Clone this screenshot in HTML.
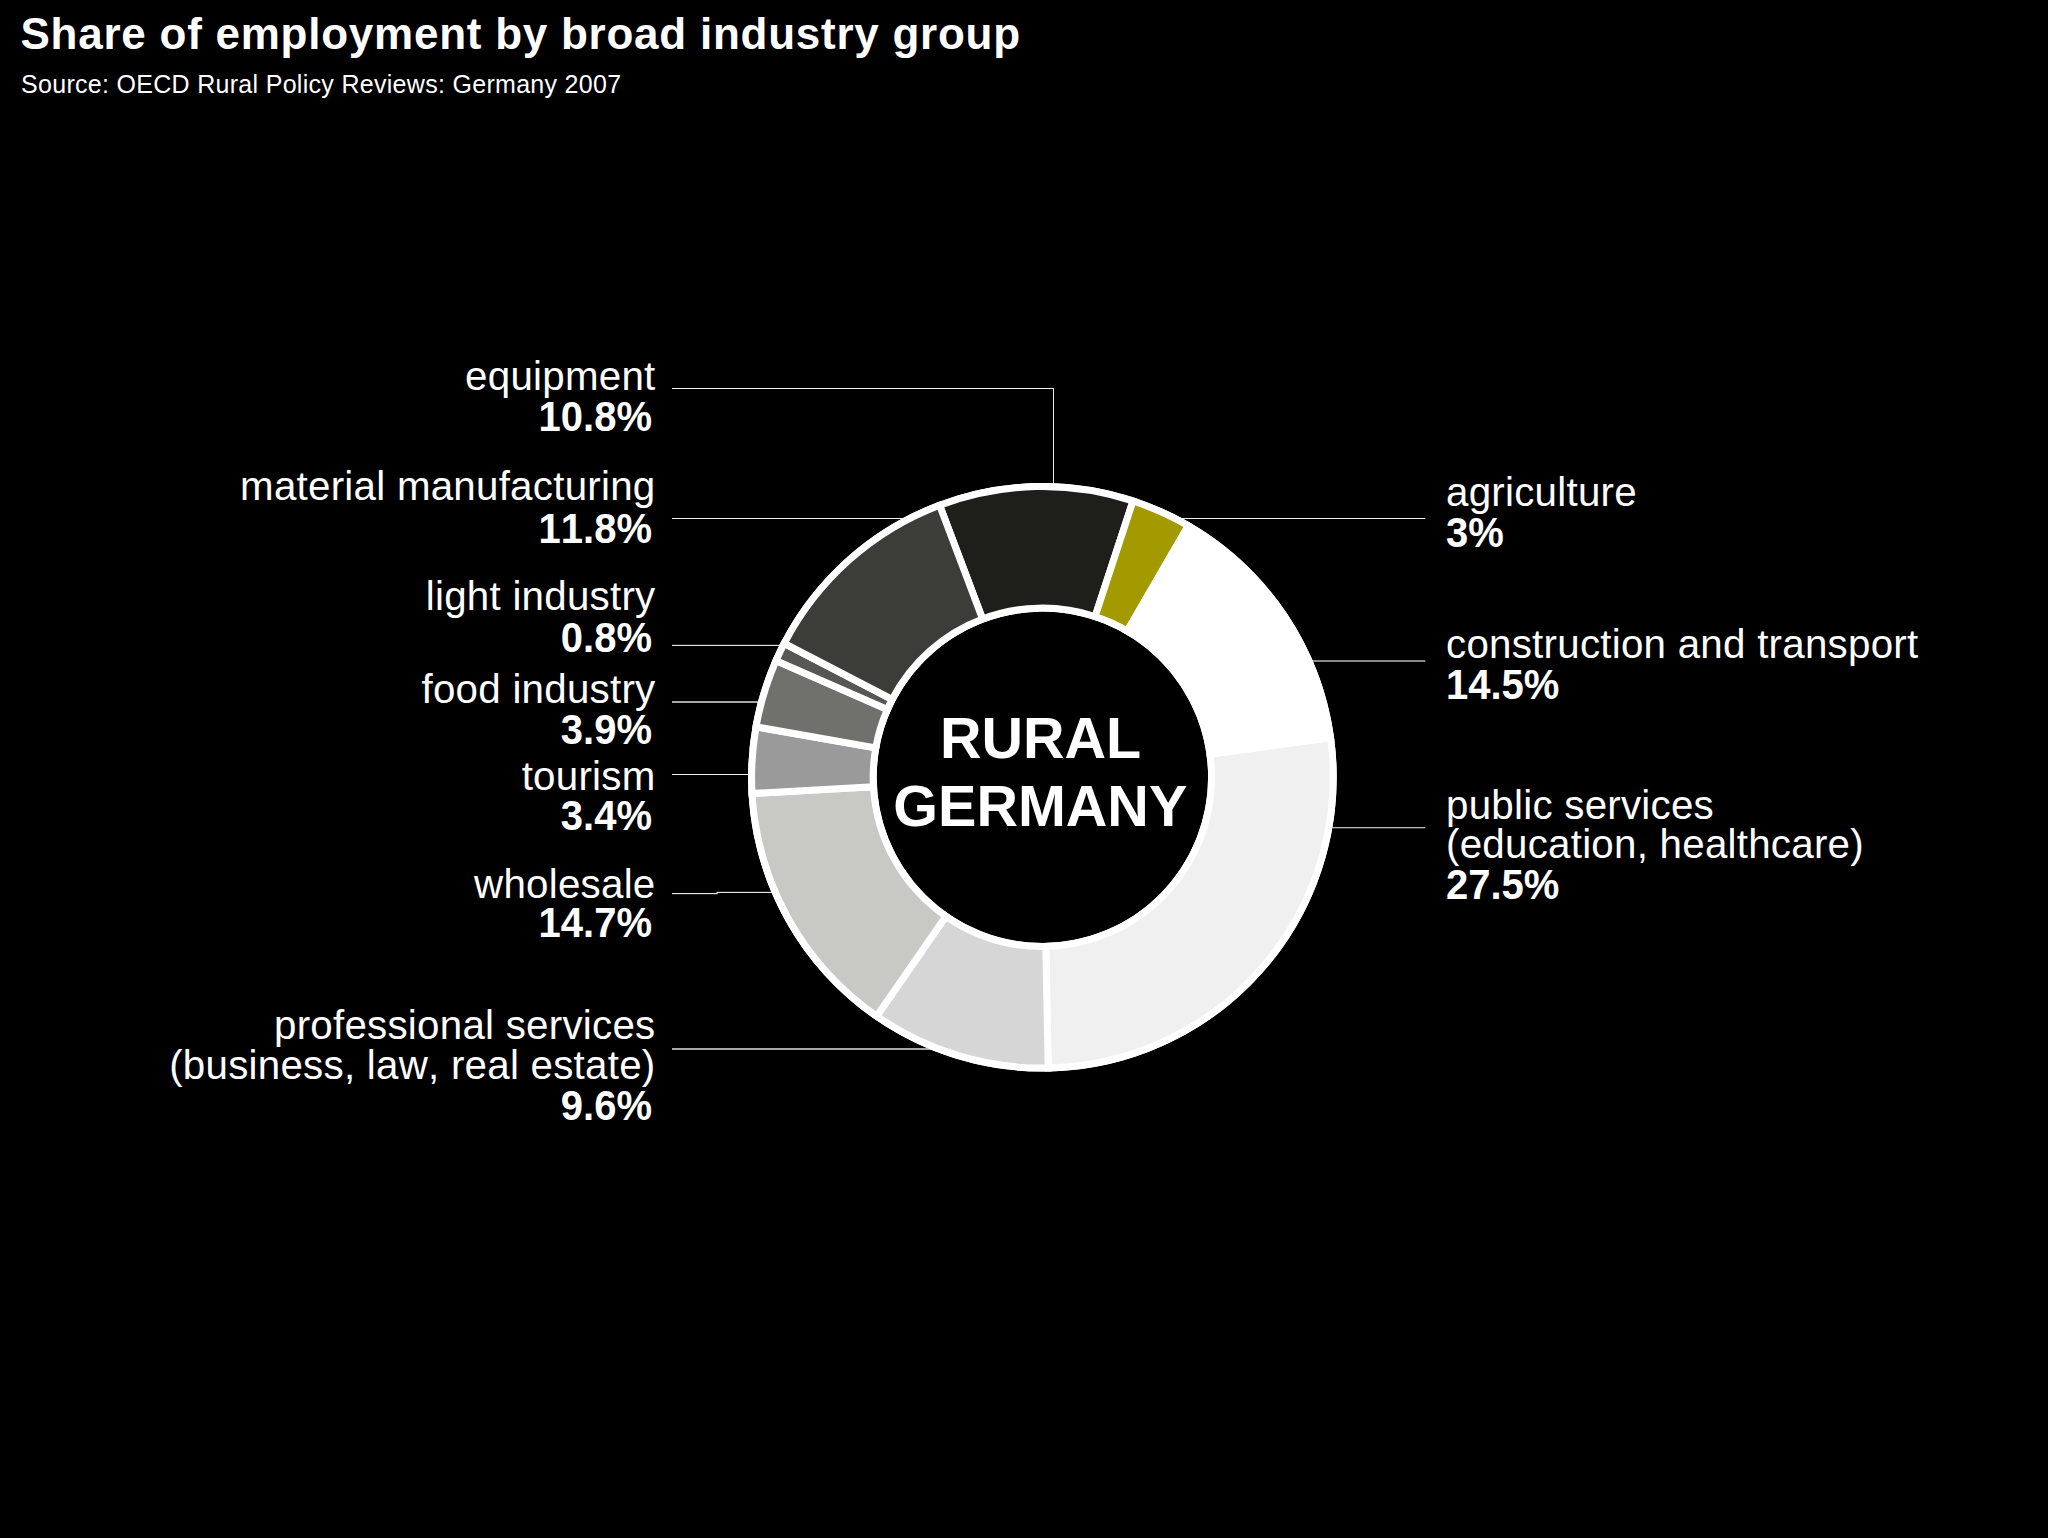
<!DOCTYPE html>
<html><head><meta charset="utf-8"><style>
html,body{margin:0;padding:0;background:#000;}
body{width:2048px;height:1538px;overflow:hidden;position:relative;}
svg{position:absolute;left:0;top:0;}
text{font-family:"Liberation Sans",sans-serif;fill:#fff;font-kerning:none;}
.r{font-size:40.3px;letter-spacing:0.25px;}
.b{font-size:40px;font-weight:bold;}
.t{font-size:44px;font-weight:bold;letter-spacing:0.75px;}
.s{font-size:25px;letter-spacing:0.3px;}
.c{font-size:57.5px;font-weight:bold;}
</style></head><body>
<svg width="2048" height="1538" viewBox="0 0 2048 1538">
<rect width="2048" height="1538" fill="#000"/>
<text x="20.5" y="48.6" class="t">Share of employment by broad industry group</text>
<text x="21" y="92.9" class="s">Source: OECD Rural Policy Reviews: Germany 2007</text>
<rect x="672" y="388.00" width="382.00" height="1.0" fill="#f2f2f2"/><rect x="672" y="518.00" width="288.00" height="1.0" fill="#f2f2f2"/><rect x="672" y="644.85" width="128.00" height="1.1" fill="#f0f0f0"/><rect x="672" y="701.25" width="128.00" height="1.5" fill="#e0e0e0"/><rect x="672" y="774.00" width="128.00" height="1.0" fill="#f2f2f2"/><rect x="672" y="893.05" width="45.50" height="1.1" fill="#f0f0f0"/><rect x="717" y="891.85" width="83.00" height="1.1" fill="#f0f0f0"/><rect x="672" y="1048.25" width="288.00" height="1.5" fill="#e0e0e0"/><rect x="1150" y="518.00" width="275.30" height="1.0" fill="#f2f2f2"/><rect x="1290" y="660.15" width="135.30" height="1.7" fill="#a0a0a0"/><rect x="1300" y="827.15" width="125.30" height="1.1" fill="#d8d8d8"/><rect x="1053" y="388" width="1" height="100" fill="#e8e8e8"/><rect x="716.5" y="891.85" width="1" height="2.3" fill="#d0d0d0"/>
<circle cx="1042.4" cy="777.3" r="230.00" fill="none" stroke="#fff" stroke-width="128.60"/>
<g stroke="#fff" stroke-width="7" stroke-linejoin="miter">
<path d="M939.61,505.27 A290.80,290.80 0 0 1 1132.99,500.97 L1095.11,616.52 A169.20,169.20 0 0 0 982.59,619.02 Z" fill="#1e1e1a"/><path d="M1132.99,500.97 A290.80,290.80 0 0 1 1188.24,525.71 L1127.26,630.92 A169.20,169.20 0 0 0 1095.11,616.52 Z" fill="#a39a00"/><path d="M1188.24,525.71 A290.80,290.80 0 0 1 1330.51,737.83 L1210.03,754.34 A169.20,169.20 0 0 0 1127.26,630.92 Z" fill="#ffffff"/><path d="M1330.51,737.83 A290.80,290.80 0 0 1 1048.24,1068.04 L1045.80,946.47 A169.20,169.20 0 0 0 1210.03,754.34 Z" fill="#f0f0f0"/><path d="M1048.24,1068.04 A290.80,290.80 0 0 1 876.64,1016.23 L945.96,916.32 A169.20,169.20 0 0 0 1045.80,946.47 Z" fill="#d6d6d6"/><path d="M876.64,1016.23 A290.80,290.80 0 0 1 752.05,793.53 L873.46,786.74 A169.20,169.20 0 0 0 945.96,916.32 Z" fill="#c8c8c4"/><path d="M752.05,793.53 A290.80,290.80 0 0 1 756.02,726.80 L875.77,747.92 A169.20,169.20 0 0 0 873.46,786.74 Z" fill="#9a9a9a"/><path d="M756.02,726.80 A290.80,290.80 0 0 1 776.02,660.65 L887.41,709.43 A169.20,169.20 0 0 0 875.77,747.92 Z" fill="#70706c"/><path d="M776.02,660.65 A290.80,290.80 0 0 1 784.22,643.47 L892.18,699.43 A169.20,169.20 0 0 0 887.41,709.43 Z" fill="#575755"/><path d="M784.22,643.47 A290.80,290.80 0 0 1 939.61,505.27 L982.59,619.02 A169.20,169.20 0 0 0 892.18,699.43 Z" fill="#3c3c38"/>
</g>
<text x="1040.5" y="757.6" text-anchor="middle" class="c">RURAL</text>
<text x="1040.3" y="826.2" text-anchor="middle" class="c">GERMANY</text>
<text x="655.5" y="390" text-anchor="end" class="r">equipment</text><text transform="translate(652,431) scale(1,1.06)" text-anchor="end" class="b">10.8%</text><text x="655.5" y="500" text-anchor="end" class="r">material manufacturing</text><text transform="translate(652,543.2) scale(1,1.06)" text-anchor="end" class="b">11.8%</text><text x="655.5" y="610" text-anchor="end" class="r">light industry</text><text transform="translate(652,651.5) scale(1,1.06)" text-anchor="end" class="b">0.8%</text><text x="655.5" y="702.5" text-anchor="end" class="r">food industry</text><text transform="translate(652,743.6) scale(1,1.06)" text-anchor="end" class="b">3.9%</text><text x="655.5" y="790" text-anchor="end" class="r">tourism</text><text transform="translate(652,830) scale(1,1.06)" text-anchor="end" class="b">3.4%</text><text x="655.5" y="898" text-anchor="end" class="r">wholesale</text><text transform="translate(652,937) scale(1,1.06)" text-anchor="end" class="b">14.7%</text><text x="655.5" y="1039.3" text-anchor="end" class="r">professional services</text><text x="655.5" y="1078.7" text-anchor="end" class="r">(business, law, real estate)</text><text transform="translate(652,1120) scale(1,1.06)" text-anchor="end" class="b">9.6%</text><text x="1446" y="506" class="r">agriculture</text><text transform="translate(1446,546.6) scale(1,1.06)" class="b">3%</text><text x="1446" y="658" class="r">construction and transport</text><text transform="translate(1446,699) scale(1,1.06)" class="b">14.5%</text><text x="1446" y="819" class="r">public services</text><text x="1446" y="858" class="r">(education, healthcare)</text><text transform="translate(1446,899) scale(1,1.06)" class="b">27.5%</text>
</svg>
</body></html>
